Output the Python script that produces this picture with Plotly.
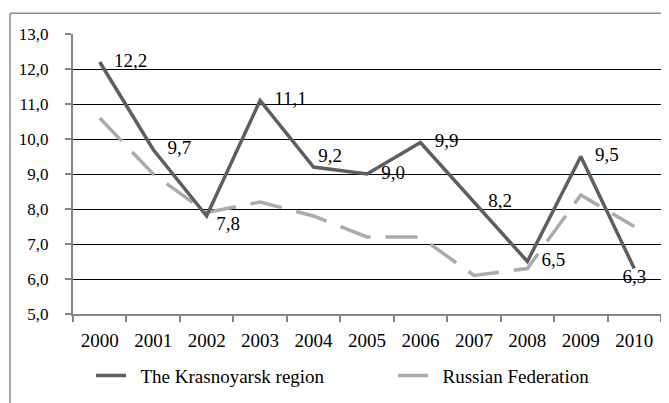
import plotly.graph_objects as go

years = ["2000", "2001", "2002", "2003", "2004", "2005", "2006", "2007", "2008", "2009", "2010"]
krasnoyarsk = [12.2, 9.7, 7.8, 11.1, 9.2, 9.0, 9.9, 8.2, 6.5, 9.5, 6.3]
russia = [10.6, 9.0, 7.9, 8.2, 7.8, 7.2, 7.2, 6.1, 6.3, 8.4, 7.5]
kras_label_pos = ["middle right", "middle right", "bottom right", "middle right", "top right",
                  "middle right", "middle right", "middle right", "middle right", "middle right",
                  "bottom center"]
kras_label_pad = [3, 3, 2, 3, 1, 3, 3, 3, 3, 3, 0]
y_ticks = [5, 6, 7, 8, 9, 10, 11, 12, 13]

FONT = "Liberation Serif"
NB = "\u00a0"

labels = [NB * p + f"{v:.1f}".replace(".", ",") for v, p in zip(krasnoyarsk, kras_label_pad)]

fig = go.Figure()
fig.add_trace(go.Scatter(
    x=years, y=russia, mode="lines", name=NB * 2 + "Russian Federation",
    line=dict(color="#ababab", width=3.5, dash="32px,15px"),
    legend="legend2",
))
fig.add_trace(go.Scatter(
    x=years, y=krasnoyarsk, mode="lines+text", name=NB * 2 + "The Krasnoyarsk region",
    line=dict(color="#5e5e5e", width=3.5),
    text=labels,
    textposition=kras_label_pos,
    textfont=dict(family=FONT, size=19, color="#000000"),
    legend="legend",
))

fig.update_layout(
    width=661, height=395,
    margin=dict(l=65, r=8, t=26, b=87),
    paper_bgcolor="white", plot_bgcolor="white",
    font=dict(family=FONT, size=19, color="#000000"),
    separators=",.",
    showlegend=True,
    legend=dict(orientation="h", x=18 / 588, xanchor="left", y=-62 / 282, yanchor="middle",
                font=dict(family=FONT, size=19)),
    legend2=dict(orientation="h", x=320 / 588, xanchor="left", y=-62 / 282, yanchor="middle",
                 font=dict(family=FONT, size=19)),
    xaxis=dict(
        type="category", showgrid=False, showline=True, linecolor="#868686", linewidth=2,
        ticks="outside", ticklen=6, tickcolor="#868686", tickwidth=2, tickson="boundaries",
        tickfont=dict(family=FONT, size=19), range=[-0.5, 10.5], ticklabelstandoff=8,
    ),
    yaxis=dict(
        range=[5, 13], tickvals=y_ticks, tickformat=".1f", showgrid=True,
        gridcolor="#000000", gridwidth=1.3, showline=True, linecolor="#868686", linewidth=2,
        ticks="outside", ticklen=6, tickcolor="#868686", tickwidth=2, zeroline=False,
        tickfont=dict(family=FONT, size=17), ticklabelstandoff=13,
    ),
    shapes=[
        dict(type="line", xref="paper", yref="paper", x0=-63 / 588, x1=1.1, y0=1 + 21 / 282, y1=1 + 21 / 282,
             line=dict(color="#8c8c8c", width=1.5)),
        dict(type="line", xref="paper", yref="paper", x0=-63 / 588, x1=-63 / 588, y0=1 + 21 / 282, y1=-0.5,
             line=dict(color="#8c8c8c", width=1.5)),
    ],
)

fig.write_html("out.html")
